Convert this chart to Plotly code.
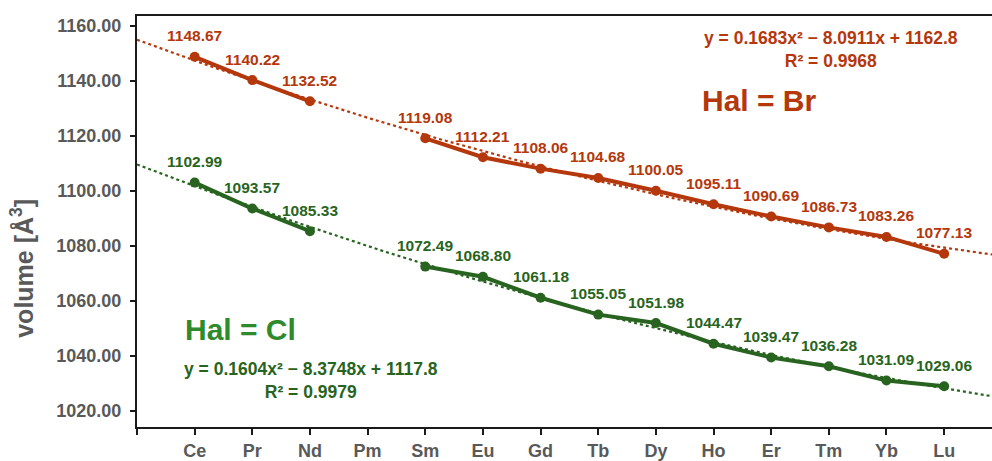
import numpy as np
import plotly.graph_objects as go

# Lanthanides on the category axis (Pm has no measured structure)
categories = ["Ce", "Pr", "Nd", "Pm", "Sm", "Eu", "Gd", "Tb", "Dy", "Ho", "Er", "Tm", "Yb", "Lu"]

vol_br = [1148.67, 1140.22, 1132.52, None, 1119.08, 1112.21, 1108.06,
          1104.68, 1100.05, 1095.11, 1090.69, 1086.73, 1083.26, 1077.13]
vol_cl = [1102.99, 1093.57, 1085.33, None, 1072.49, 1068.80, 1061.18,
          1055.05, 1051.98, 1044.47, 1039.47, 1036.28, 1031.09, 1029.06]

# Quadratic trend coefficients (a, b, c) and R² for each halide
fit_br = (0.1683, -8.0911, 1162.8)
r2_br = 0.9968
fit_cl = (0.1604, -8.3748, 1117.8)
r2_cl = 0.9979

RED = "#B5370C"
GREEN = "#286420"
GREEN_LABEL = "#2E8A2A"
GREY = "#595959"
FONT = "Liberation Sans, Arial, sans-serif"

# the category axis starts with one empty slot, so Ce sits at position 2
x_pos = list(range(2, 2 + len(categories)))
x_min, x_max = 1, 15.83

fig = go.Figure()

x_fit = np.linspace(x_min, x_max, 300)
for (a, b, c), col in ((fit_br, RED), (fit_cl, GREEN)):
    fig.add_trace(go.Scatter(
        x=x_fit, y=a * x_fit ** 2 + b * x_fit + c, mode="lines",
        line=dict(color=col, width=2.2, dash="dot"),
        hoverinfo="skip", showlegend=False))

for vals, col in ((vol_br, RED), (vol_cl, GREEN)):
    fig.add_trace(go.Scatter(
        x=x_pos, y=vals, mode="lines+markers",
        line=dict(color=col, width=4), marker=dict(color=col, size=10),
        connectgaps=False, showlegend=False))
    for xv, yv in zip(x_pos, vals):
        if yv is None:
            continue
        fig.add_annotation(x=xv, y=yv, text=f"<b>{yv:.2f}</b>", showarrow=False,
                           yshift=21, xanchor="center", yanchor="middle",
                           font=dict(family=FONT, size=15.5, color=col))


def equation(a, b, c, r2):
    sb = "−" if b < 0 else "+"
    sc = "−" if c < 0 else "+"
    return (f"<b>y = {a:.4f}x² {sb} {abs(b):.4f}x {sc} {abs(c):.1f}</b><br>"
            f"<b>R² = {r2:.4f}</b>")


def note(x, y, text, size, color, angle=0):
    fig.add_annotation(x=x, y=y, xref="paper", yref="paper", text=text,
                       showarrow=False, align="center", textangle=angle,
                       xanchor="center", yanchor="middle",
                       font=dict(family=FONT, size=size, color=color))


# paper coords: plot area spans x 137..992 px, y 16..430 px
note(0.812, 0.918, equation(*fit_br, r2_br), 17.5, RED)
note(0.728, 0.795, "<b>Hal = Br</b>", 30, RED)
note(0.121, 0.237, "<b>Hal = Cl</b>", 30, GREEN_LABEL)
note(0.204, 0.113, equation(*fit_cl, r2_cl), 17.5, GREEN)
note(-0.134, 0.386, "<b>volume [Å<sup>3</sup>]</b>", 25, GREY, angle=-90)

fig.update_layout(
    width=992, height=461,
    margin=dict(l=137, r=0, t=16, b=31),
    paper_bgcolor="white", plot_bgcolor="white",
    font=dict(family=FONT),
)
fig.update_xaxes(
    range=[x_min, x_max],
    tickvals=x_pos, ticktext=categories,
    showgrid=False, zeroline=False,
    showline=True, linecolor="#1a1a1a", linewidth=2, mirror=True,
    ticks="outside", ticklen=6, tickwidth=2, tickcolor="#1a1a1a",
    minor=dict(ticks="outside", ticklen=6, tickwidth=2, tickcolor="#1a1a1a",
               tick0=1, dtick=1),
    tickfont=dict(family=FONT, size=18, color=GREY, weight="bold"),
)
fig.update_yaxes(
    range=[1014.23, 1163.5], tickvals=list(range(1020, 1161, 20)),
    tickformat=".2f",
    showgrid=False, zeroline=False,
    showline=True, linecolor="#1a1a1a", linewidth=2, mirror=False,
    ticks="outside", ticklen=5, tickwidth=2, tickcolor="#1a1a1a",
    ticklabelstandoff=5,
    tickfont=dict(family=FONT, size=18, color=GREY, weight="bold"),
)

fig.write_html("out.html")
